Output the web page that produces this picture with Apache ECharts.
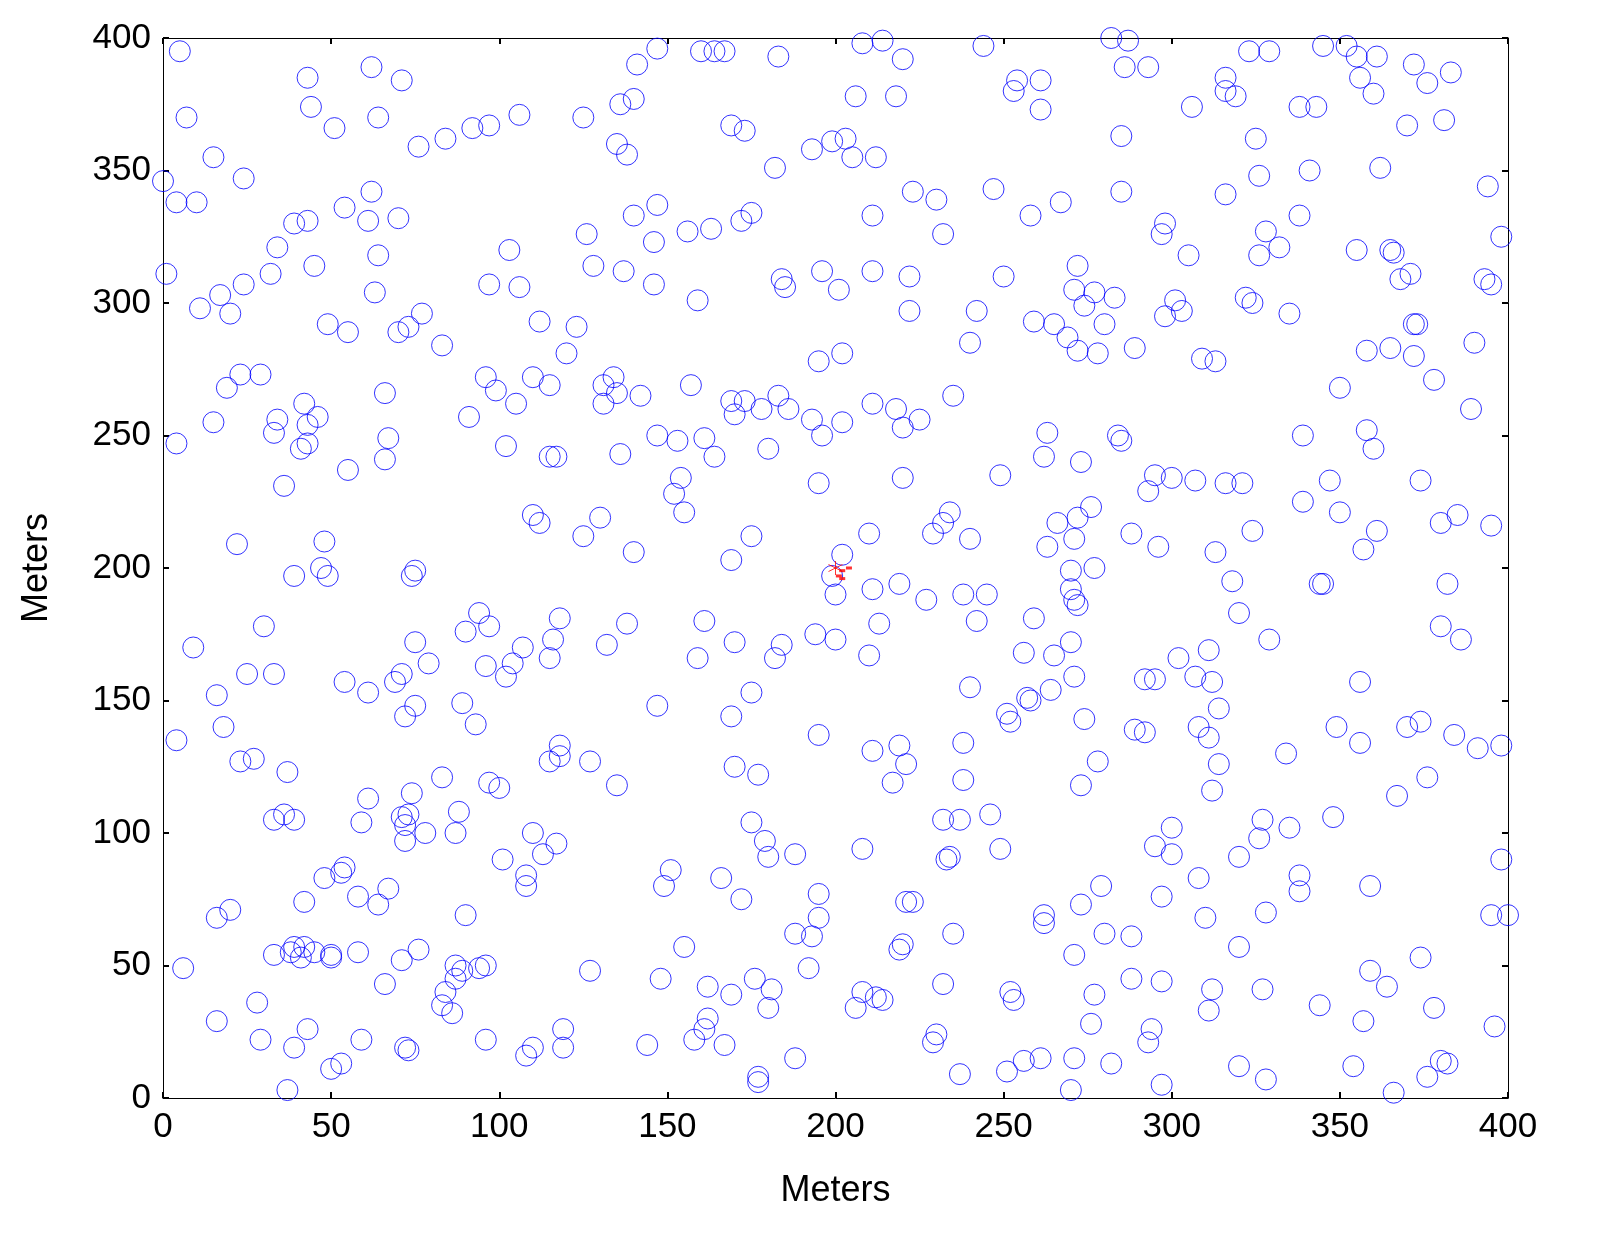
<!DOCTYPE html>
<html><head><meta charset="utf-8">
<script src="https://cdn.jsdelivr.net/npm/echarts@6/dist/echarts.min.js"></script>
<style>html,body{margin:0;background:#fff}#chart{width:1600px;height:1250px}</style>
</head><body><div id="chart"></div>
<script>
// node positions in meters
const nodes = [
[5,395],[7,370],[0,346],[4,338],[10,338],[15,355],[24,347],[43,385],[44,374],[51,366],[62,389],[64,370],[71,384],[76,359],[84,362],[92,366],[97,367],[106,371],[125,370],[136,375],[140,377],[141,390],[135,360],[138,356],[147,396],[160,395],[164,395],[167,395],[169,367],[173,365],[183,393],[182,351],[193,358],[199,361],[203,362],[205,355],[206,378],[208,398],[214,399],[212,355],[218,378],[220,392],[244,397],[253,380],[254,384],[261,384],[261,373],[282,400],[286,389],[287,399],[293,389],[306,374],[316,385],[316,380],[319,378],[323,395],[329,395],[338,374],[343,374],[345,397],[352,397],[355,393],[356,385],[360,379],[361,393],[362,351],[370,367],[372,390],[376,383],[381,369],[383,387],[341,350],[285,363],[394,344],
[1,311],[11,298],[17,303],[20,296],[24,307],[32,311],[34,321],[39,330],[43,331],[45,314],[54,336],[55,289],[49,292],[62,342],[61,331],[64,318],[63,304],[70,332],[70,289],[73,291],[77,296],[83,284],[97,307],[103,320],[106,306],[112,293],[123,291],[126,326],[128,314],[137,312],[140,333],[146,323],[146,307],[147,337],[156,327],[159,301],[163,328],[172,331],[175,334],[184,309],[185,306],[196,312],[201,305],[211,333],[211,312],[222,310],[222,297],[223,342],[230,339],[232,326],[240,285],[242,297],[247,343],[250,310],[258,333],[259,293],[265,292],[267,338],[269,287],[271,305],[272,314],[274,299],[277,304],[278,281],[280,292],[283,302],[285,342],[289,283],[297,326],[298,330],[298,295],[301,301],[303,297],[305,318],[309,279],[313,278],[316,341],[322,302],[324,300],[325,362],[326,348],[326,318],[328,327],[332,321],[335,296],[338,333],[355,320],[358,282],[365,320],[366,319],[365,283],[368,309],[371,311],[372,292],[373,292],[372,280],[378,271],[390,285],[395,307],[398,325],[272,282],[202,281],[195,278],
[4,247],[15,255],[19,268],[23,273],[29,273],[33,251],[34,256],[41,245],[42,262],[43,247],[43,254],[46,257],[66,266],[66,241],[67,249],[96,272],[99,267],[91,257],[102,246],[105,262],[110,272],[115,269],[117,242],[120,281],[131,269],[131,262],[134,272],[135,266],[136,243],[142,265],[147,250],[153,248],[157,269],[161,249],[164,242],[169,263],[170,258],[173,263],[178,260],[180,245],[183,265],[186,260],[193,256],[196,250],[202,255],[211,262],[218,260],[220,253],[225,256],[235,265],[262,242],[263,251],[284,250],[285,248],[316,232],[339,250],[358,252],[360,245],[389,260],[393,309],[350,268],[357,207],
[36,231],[22,209],[48,210],[47,200],[49,197],[55,237],[74,197],[75,199],[110,220],[112,217],[115,242],[125,212],[130,219],[140,206],[152,228],[154,234],[155,221],[169,203],[175,212],[195,232],[202,205],[199,197],[200,190],[210,213],[220,234],[229,213],[232,217],[234,221],[238,190],[240,211],[245,190],[249,235],[259,181],[263,208],[266,217],[271,211],[272,219],[273,240],[276,223],[277,200],[270,199],[270,192],[271,188],[272,186],[288,213],[293,229],[295,235],[296,208],[300,234],[307,233],[313,206],[318,195],[320,183],[321,232],[324,214],[339,225],[344,194],[345,194],[350,221],[347,233],[361,214],[374,233],[380,217],[382,194],[385,220],[395,216],
[9,170],[16,152],[39,197],[25,160],[30,178],[33,160],[54,157],[61,153],[69,157],[71,160],[72,144],[75,148],[75,172],[79,164],[89,149],[90,176],[94,183],[96,163],[97,178],[102,159],[104,164],[107,170],[115,166],[116,173],[118,181],[132,171],[138,179],[147,148],[159,166],[161,180],[170,172],[175,153],[182,166],[184,171],[194,175],[195,137],[200,173],[210,167],[211,192],[213,179],[219,194],[227,188],[238,134],[240,155],[242,180],[251,145],[252,142],[256,168],[257,151],[258,150],[264,154],[265,167],[270,172],[271,159],[274,143],[292,158],[295,158],[302,166],[307,159],[311,169],[312,157],[314,147],[329,173],[334,130],[356,157],[370,140],[374,142],[380,178],[386,173],[384,137],[391,132],[398,133],
[4,135],[18,140],[23,127],[27,128],[37,123],[33,105],[36,107],[39,105],[59,104],[61,113],[71,106],[72,103],[72,97],[73,107],[74,115],[78,100],[83,121],[87,100],[88,108],[93,141],[97,119],[100,117],[110,100],[115,127],[118,133],[118,129],[127,127],[135,118],[169,144],[170,125],[177,122],[175,104],[179,97],[180,91],[188,92],[211,131],[217,119],[219,133],[221,126],[232,105],[237,105],[238,120],[246,107],[249,94],[278,127],[273,118],[289,139],[292,138],[295,95],[300,102],[300,92],[308,140],[311,136],[312,116],[314,126],[320,91],[326,98],[327,105],[335,102],[348,106],[349,140],[356,134],[367,114],[376,121],[398,90],
[16,68],[20,71],[33,54],[38,55],[39,57],[41,53],[42,57],[42,74],[45,55],[48,83],[50,54],[50,53],[53,85],[54,87],[58,76],[58,55],[64,73],[67,79],[71,52],[76,56],[87,50],[89,48],[90,69],[94,49],[96,50],[101,90],[108,84],[108,80],[113,92],[117,96],[149,80],[151,86],[155,57],[166,83],[172,75],[188,62],[192,49],[193,61],[195,68],[195,77],[208,94],[220,58],[219,56],[221,74],[223,74],[232,43],[233,90],[234,91],[235,62],[262,69],[262,66],[271,54],[273,73],[279,80],[280,62],[288,61],[297,76],[308,83],[310,68],[320,57],[327,41],[328,70],[338,84],[338,78],[359,80],[359,48],[374,53],[395,69],[400,69],
[6,49],[16,29],[28,36],[29,22],[37,3],[39,19],[43,26],[50,11],[53,13],[59,22],[66,43],[72,19],[73,18],[83,35],[84,40],[86,32],[87,45],[96,22],[108,16],[110,19],[119,19],[119,26],[127,48],[144,20],[148,45],[158,22],[161,26],[162,30],[162,42],[167,20],[169,39],[176,45],[177,8],[177,6],[180,34],[181,41],[188,15],[206,34],[208,40],[212,38],[214,37],[229,21],[230,24],[237,9],[251,10],[252,40],[253,37],[256,14],[261,15],[270,3],[271,15],[276,28],[277,39],[282,13],[288,45],[293,21],[294,26],[297,5],[297,44],[311,33],[312,41],[320,12],[328,7],[344,35],[354,12],[357,29],[364,42],[366,2],[376,8],[378,34],[380,14],[382,13],[396,27]
];
const sink = [[200, 200]];
const sinkMarks = [[202, 199], [204, 200], [202, 196], [201, 197]];

const font = 'Liberation Sans, Arial, sans-serif';
const chart = echarts.init(document.getElementById('chart'));
const axisBase = {
  type: 'value', min: 0, max: 400, interval: 50,
  axisLine: { show: true, onZero: false, lineStyle: { color: '#000', width: 1 } },
  axisTick: { show: true, inside: true, length: 6, lineStyle: { color: '#000', width: 2 } },
  splitLine: { show: false }
};
chart.setOption({
  animation: false,
  backgroundColor: '#fff',
  grid: { left: 163, right: 92, top: 38, bottom: 152, containLabel: false, outerBoundsMode: 'none' },
  xAxis: [
    Object.assign({}, axisBase, {
      position: 'bottom', name: 'Meters', nameLocation: 'middle', nameGap: 75,
      nameTextStyle: { fontSize: 36, color: '#000', fontFamily: font },
      axisLabel: { fontSize: 35, color: '#000', fontFamily: font, margin: 12 }
    }),
    Object.assign({}, axisBase, { position: 'top', axisLabel: { show: false } })
  ],
  yAxis: [
    Object.assign({}, axisBase, {
      position: 'left', name: 'Meters', nameLocation: 'middle', nameGap: 108,
      nameTextStyle: { fontSize: 36, color: '#000', fontFamily: font },
      axisLabel: { fontSize: 35, color: '#000', fontFamily: font, margin: 12 }
    }),
    Object.assign({}, axisBase, { position: 'right', axisLabel: { show: false } })
  ],
  series: [
    {
      type: 'scatter', data: nodes, symbol: 'circle', symbolSize: 21,
      itemStyle: { color: 'rgba(0,0,0,0)', borderColor: '#0000ff', borderWidth: 1 }
    },
    {
      type: 'scatter', data: sinkMarks, symbol: 'rect', symbolSize: [6, 3],
      itemStyle: { color: '#ff0000' }
    },
    {
      type: 'scatter', data: sink, symbol: 'path://M0,-10L0,10M-9,-5L9,5M-9,5L9,-5',
      symbolSize: 14,
      itemStyle: { color: 'none', borderColor: '#ff0000', borderWidth: 1 }
    }
  ]
});
</script>
</body></html>
